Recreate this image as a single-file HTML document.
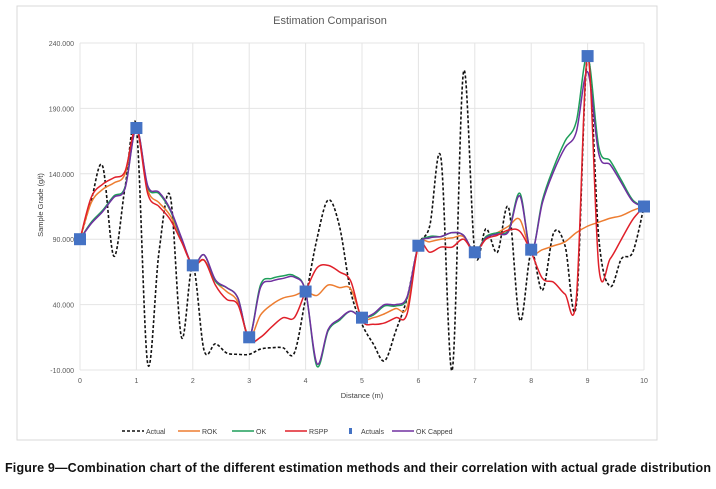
<!DOCTYPE html>
<html><head><meta charset="utf-8"><style>
body{margin:0;background:#fff;width:716px;height:484px;overflow:hidden;font-family:"Liberation Sans",sans-serif}
svg text{font-family:"Liberation Sans",sans-serif}
</style></head><body>
<svg width="716" height="484" id="chart">
<rect x="17" y="6" width="640" height="434" fill="#fff" stroke="#d9d9d9"/>
<text x="330" y="24" text-anchor="middle" font-size="11" fill="#595959">Estimation Comparison</text>
<text transform="translate(43,205) rotate(-90)" text-anchor="middle" font-size="7.5" fill="#404040">Sample Grade (g/t)</text>
<text x="362" y="398" text-anchor="middle" font-size="7.5" fill="#404040">Distance (m)</text>
<g id="grid"></g><g id="series"></g><g id="legend"></g>
<text x="358" y="472" text-anchor="middle" font-size="12.5" font-weight="bold" fill="#111" textLength="706">Figure 9—Combination chart of the different estimation methods and their correlation with actual grade distribution</text>
</svg>
<script>
const xs=[0,0.2,0.4,0.6,0.8,1,1.2,1.4,1.6,1.8,2,2.2,2.4,2.6,2.8,3,3.2,3.4,3.6,3.8,4,4.2,4.4,4.6,4.8,5,5.2,5.4,5.6,5.8,6,6.2,6.4,6.6,6.8,7,7.2,7.4,7.6,7.8,8,8.2,8.4,8.6,8.8,9,9.2,9.4,9.6,9.8,10];
const actual=[90,120,146,77,130,175,-5,80,123,15,70,5,10,3,2,2,6,7,7,3,45,90,120,100,50,25,10,-3,20,45,85,100,152,-10,218,80,98,80,114,28,80,51,95,85,40,230,90,54,75,80,115];
const rok=[90,118,128,133,140,175,128,118,108,90,70,74,58,50,42,15,32,40,45,47,50,47,55,53,52,30,30,33,37,38,85,88,90,91,92,80,92,95,100,105,80,82,85,88,95,100,103,106,108,112,115];
const rspp=[90,122,132,137,142,175,125,115,105,88,70,74,55,44,40,13,15,23,30,30,50,68,70,65,58,28,25,26,30,33,85,80,84,84,90,80,90,93,97,96,80,60,57,48,45,230,68,75,90,105,115];
const ok=[90,103,112,123,130,175,130,125,112,90,70,78,58,53,45,15,55,60,62,62,50,-7,20,28,35,30,32,39,39,45,85,92,92,95,93,80,92,95,97,125,80,120,145,165,180,230,160,150,135,120,115];
const okCapped=[90,102,111,122,129,175,131,126,113,91,70,78,59,53,45,15,53,58,60,61,50,-5,21,29,35,30,33,40,40,46,85,91,92,95,93,80,91,94,96,123,80,118,142,160,172,218,155,147,133,119,115];
const sx=[0,1,2,3,4,5,6,7,8,9,10];
const sy=[90,175,70,15,50,30,85,80,82,230,115];
const yTicks=[-10,40,90,140,190,240];
const yTickLabels=["-10.000","40.000","90.000","140.000","190.000","240.000"];
const xTicks=[0,1,2,3,4,5,6,7,8,9,10];
const X=v=>80+v*56.4, Y=v=>370-(v+10)*327/250;
const NS="http://www.w3.org/2000/svg";
function mk(tag,attrs,parent){const e=document.createElementNS(NS,tag);for(const k in attrs)e.setAttribute(k,attrs[k]);parent.appendChild(e);return e;}
const grid=document.getElementById('grid'),ser=document.getElementById('series'),leg=document.getElementById('legend');
yTicks.forEach((t,i)=>{
 const l=mk('line',{x1:80,x2:644,y1:Y(t),y2:Y(t),stroke:'#e4e4e4'},grid);
 
 
 const tx=mk('text',{x:74,y:Y(t)+3,'text-anchor':'end','font-size':7,fill:'#595959'},grid);tx.textContent=yTickLabels[i];
 
 
});
xTicks.forEach(t=>{
 const l=mk('line',{x1:X(t),x2:X(t),y1:Y(240),y2:Y(-10),stroke:'#e4e4e4'},grid);
 
 
 const tx=mk('text',{x:X(t),y:Y(-10)+13,'text-anchor':'middle','font-size':7,fill:'#595959'},grid);tx.textContent=t;
 
 
});
function smooth(vals){const p=xs.map((x,i)=>[X(x),Y(vals[i])]);let d=`M${p[0][0]},${p[0][1]}`;
 for(let i=0;i<p.length-1;i++){const p0=p[Math.max(0,i-1)],p1=p[i],p2=p[i+1],p3=p[Math.min(p.length-1,i+2)];
  d+=` C${p1[0]+(p2[0]-p0[0])/6},${p1[1]+(p2[1]-p0[1])/6} ${p2[0]-(p3[0]-p1[0])/6},${p2[1]-(p3[1]-p1[1])/6} ${p2[0]},${p2[1]}`;}
 return d;}
const A=mk('path',{d:smooth(actual),fill:'none',stroke:'#111','stroke-width':1.6,'stroke-dasharray':'3,2'},ser);


const R1=mk('path',{d:smooth(rok),fill:'none',stroke:'#ed7d31','stroke-width':1.5},ser);


const O1=mk('path',{d:smooth(ok),fill:'none',stroke:'#1e9e5a','stroke-width':1.5},ser);


const O2=mk('path',{d:smooth(okCapped),fill:'none',stroke:'#7030a0','stroke-width':1.5},ser);


const R2=mk('path',{d:smooth(rspp),fill:'none',stroke:'#e0202a','stroke-width':1.5},ser);


sx.forEach((x,i)=>{const r=mk('rect',{x:X(x)-6,y:Y(sy[i])-6,width:12,height:12,fill:'#4472c4'},ser);
 
 });
const items=[['Actual','#111',122,true],['ROK','#ed7d31',178],['OK','#1e9e5a',232],['RSPP','#e0202a',285],['Actuals','#4472c4',347,false,true],['OK Capped','#7030a0',392]];
items.forEach(it=>{const g=mk('g',{},leg);
 
 
 let tx0;
 if(it[4]){mk('rect',{x:it[2]+2,y:428,width:3,height:6,fill:it[1]},g);tx0=it[2]+14;}
 else{mk('line',{x1:it[2],x2:it[2]+22,y1:431,y2:431,stroke:it[1],'stroke-width':1.6,'stroke-dasharray':it[3]?'3,2':'none'},g);tx0=it[2]+24;}
 const t=mk('text',{x:tx0,y:434,'font-size':7,fill:'#404040'},g);t.textContent=it[0];});
</script>
</body></html>
